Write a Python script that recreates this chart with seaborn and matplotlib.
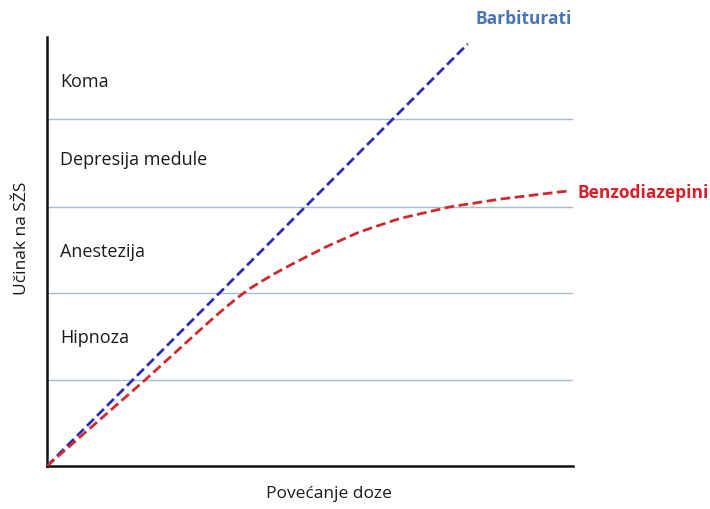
import seaborn as sns
import matplotlib.pyplot as plt
import pandas as pd

# --- Values (arbitrary 0-100 units) ---
barb_x = [0, 80]
barb_y = [0, 98.4]

benzo_x = [0, 18.6, 27.2, 31.9, 34.2, 36.4, 38.6, 41.0, 43.5, 46.2, 52.9, 59.5, 67.1, 76.6, 86.1, 92.8, 99.0]
benzo_y = [0, 20.0, 29.6, 34.8, 37.2, 39.4, 41.4, 43.2, 45.0, 46.8, 51.0, 54.6, 57.7, 60.4, 62.2, 63.2, 64.1]

level_bounds = [20, 40.3, 60.4, 80.9]
level_names = ["Hipnoza", "Anestezija", "Depresija medule", "Koma"]
level_label_y = [30.1, 50.1, 71.6, 89.7]

df = pd.concat([
    pd.DataFrame({"doza": barb_x, "ucinak": barb_y, "lijek": "Barbiturati"}),
    pd.DataFrame({"doza": benzo_x, "ucinak": benzo_y, "lijek": "Benzodiazepini"}),
])

# --- Visualization ---
sns.set_style("white")
plt.rcParams["font.family"] = ["Open Sans", "DejaVu Sans"]

fig = plt.figure(figsize=(7.1, 5.1), dpi=100)
ax = fig.add_axes([0.0662, 0.0843, 0.7408, 0.8412])

for yb in level_bounds:
    ax.axhline(yb, color="#a9bccb", lw=1.0, zorder=1)

sns.lineplot(data=df, x="doza", y="ucinak", hue="lijek",
             palette={"Barbiturati": "#2b2fb8", "Benzodiazepini": "#d02a2e"},
             sort=False, estimator=None, legend=False, lw=2.0, ax=ax, zorder=3)
for line in ax.lines[-2:]:
    line.set_dashes([3.5, 1.6])
    line.set_dash_joinstyle("round")

for name, yl in zip(level_names, level_label_y):
    ax.text(2.5, yl, name, fontsize=13, color="#1a1a1a", va="center", ha="left")

ax.text(81.5, 104.4, "Barbiturati", fontsize=12.5, color="#4a74b8",
        fontweight="bold", ha="left", va="center", clip_on=False)
ax.text(100.8, 63.8, "Benzodiazepini", fontsize=12.5, color="#d81e28",
        fontweight="bold", ha="left", va="center", clip_on=False)

ax.set_xlim(0, 100)
ax.set_ylim(0, 100)
ax.set_xticks([])
ax.set_yticks([])
ax.spines["top"].set_visible(False)
ax.spines["right"].set_visible(False)
ax.spines["left"].set_linewidth(1.8)
ax.spines["bottom"].set_linewidth(1.8)
ax.spines["left"].set_color("#111111")
ax.spines["bottom"].set_color("#111111")

ax.set_xlabel("Povećanje doze", fontsize=12.5, color="#1a1a1a")
ax.set_ylabel("Učinak na SŽS", fontsize=12.5, color="#1a1a1a")
ax.xaxis.set_label_coords(0.536, -0.045)
ax.yaxis.set_label_coords(-0.032, 0.532)

plt.savefig("out.png", dpi=100)
